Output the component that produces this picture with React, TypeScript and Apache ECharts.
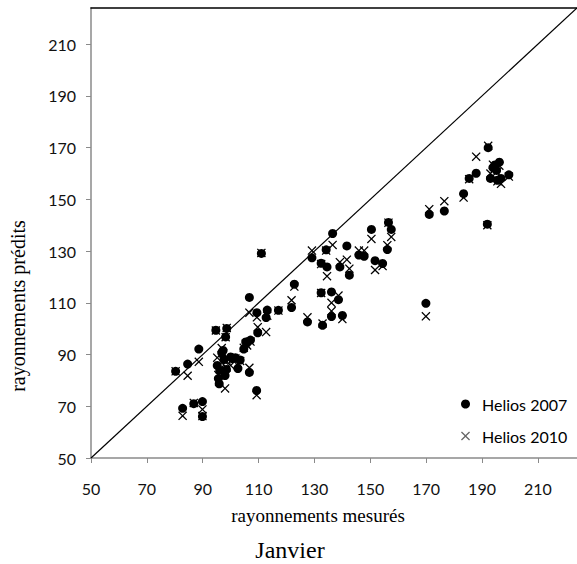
import React, { useEffect, useRef } from "react";
import * as echarts from "echarts";

// Measured irradiance (x) and the two model predictions (y) for January.
const measured = [
  80.3, 84.6, 82.8, 86.8, 88.6, 89.9, 89.9, 94.7, 95.2, 95.6, 95.9, 96.1, 96.8,
  97.3, 97.6, 98.0, 98.5, 98.6, 98.2, 100.0, 100.6, 101.7, 102.6, 103.4, 104.7,
  105.4, 105.9, 107.1, 106.7, 106.7, 109.3, 109.4, 109.7, 111.0, 112.7, 113.1,
  117.1, 121.8, 122.8, 127.5, 129.1, 132.4, 132.4, 132.9, 134.2, 134.5, 136.5,
  136.1, 136.1, 138.6, 139.1, 140.0, 141.6, 142.5, 145.9, 147.8, 150.4, 151.7,
  154.4, 156.1, 156.5, 157.5, 169.9, 171.1, 176.5, 183.4, 185.4, 187.9, 192.2,
  191.9, 193.0, 193.9, 194.6, 195.2, 196.2, 195.5, 196.8, 199.6,
];
const helios2007 = [
  83.5, 86.3, 69.2, 71.0, 92.1, 71.8, 66.0, 99.4, 85.8, 80.7, 78.7, 83.9, 90.7,
  91.6, 88.0, 81.9, 84.2, 100.1, 96.8, 89.1, 88.4, 88.8, 84.6, 87.9, 92.1,
  94.9, 94.6, 95.6, 112.1, 83.1, 76.1, 106.2, 98.4, 129.1, 104.3, 107.2,
  107.1, 108.2, 117.2, 102.6, 127.4, 125.3, 113.9, 101.3, 130.5, 123.9, 136.8,
  114.2, 104.7, 111.2, 123.9, 105.1, 132.0, 120.7, 128.5, 128.0, 138.4, 126.3,
  125.2, 130.6, 141.1, 138.4, 109.8, 144.2, 145.5, 152.2, 158.1, 160.1, 170.0,
  140.4, 158.1, 162.3, 163.3, 161.2, 164.4, 157.4, 158.1, 159.5,
];
const helios2010 = [
  83.5, 81.8, 66.3, 71.3, 87.2, 68.8, 66.2, 99.3, 88.8, 82.1, 79.5, 84.3, 92.5,
  90.5, 87.7, 76.9, 85.0, 100.3, 96.7, 85.8, 88.0, 88.5, 86.5, 87.5, 92.6,
  94.2, 93.5, 95.0, 106.2, 84.9, 74.3, 104.4, 100.6, 129.3, 98.7, 105.0,
  107.0, 111.0, 116.3, 104.4, 130.2, 125.0, 113.8, 102.0, 130.2, 120.3, 132.4,
  110.0, 106.8, 112.8, 125.7, 103.7, 126.7, 123.2, 130.2, 130.2, 134.7, 122.7,
  124.2, 132.3, 141.0, 135.5, 104.8, 146.2, 149.3, 150.7, 157.8, 166.5, 170.7,
  140.0, 160.0, 163.4, 162.0, 160.5, 163.0, 157.0, 156.0, 158.8,
];
const tickValues = [50, 70, 90, 110, 130, 150, 170, 190, 210];
const axisMin = 50;
const axisMax = 224;

const CROSS =
  "path://M0,1L1,0L5,4L9,0L10,1L6,5L10,9L9,10L5,6L1,10L0,9L4,5Z";
const SANS = "Lato, 'Liberation Sans', sans-serif";
const SERIF = "'Liberation Serif', 'Times New Roman', serif";
const AXIS_GRAY = "#8a8a8a";

const pairs = (ys: number[]) => measured.map((x, i) => [x, ys[i]]);

export default function App() {
  const ref = useRef<HTMLDivElement>(null);

  useEffect(() => {
    document.body.style.margin = "0";
    if (!ref.current) return;
    const chart = echarts.init(ref.current, undefined, { renderer: "svg" });

    const valueAxis = (labelMargin: number) => ({
      type: "value" as const,
      min: axisMin,
      max: axisMax,
      interval: 20,
      splitLine: { show: false },
      axisLine: { show: true, lineStyle: { color: AXIS_GRAY, width: 1.5 } },
      axisTick: {
        show: true,
        inside: false,
        length: 5,
        customValues: tickValues,
        lineStyle: { color: AXIS_GRAY, width: 1 },
      },
      axisLabel: {
        margin: labelMargin,
        customValues: tickValues,
        color: "#111",
        fontFamily: SANS,
        fontSize: 16,
      },
    });

    chart.setOption({
      animation: false,
      grid: { left: 91, right: 0, top: 8, bottom: 106, containLabel: false },
      xAxis: [
        valueAxis(22),
        {
          type: "value",
          position: "top",
          min: axisMin,
          max: axisMax,
          axisLine: { show: true, onZero: false, lineStyle: { color: "#000", width: 1.6 } },
          axisTick: { show: false },
          axisLabel: { show: false },
          splitLine: { show: false },
        },
      ],
      yAxis: valueAxis(15),
      legend: {
        orient: "vertical",
        left: 456,
        top: 391,
        itemGap: 16,
        itemWidth: 9,
        itemHeight: 9,
        textStyle: {
          fontFamily: SANS,
          fontSize: 16,
          color: "#000",
          padding: [0, 0, 0, 7],
        },
        data: [
          { name: "Helios 2007", icon: "circle", itemStyle: { color: "#000", opacity: 1 } },
          { name: "Helios 2010", icon: CROSS, itemStyle: { color: "#666", opacity: 1 } },
        ],
      },
      graphic: [
        {
          type: "text",
          x: 318,
          y: 515,
          style: {
            text: "rayonnements mesurés",
            font: `19px ${SERIF}`,
            fill: "#000",
            align: "center",
            verticalAlign: "middle",
          },
        },
        {
          type: "text",
          x: 18,
          y: 306,
          rotation: Math.PI / 2,
          style: {
            text: "rayonnements prédits",
            font: `20px ${SERIF}`,
            fill: "#000",
            align: "center",
            verticalAlign: "middle",
          },
        },
        {
          type: "text",
          x: 290,
          y: 550,
          style: {
            text: "Janvier",
            font: `24px ${SERIF}`,
            fill: "#000",
            align: "center",
            verticalAlign: "middle",
          },
        },
      ],
      series: [
        {
          name: "1:1",
          type: "line",
          data: [
            [axisMin, axisMin],
            [axisMax, axisMax],
          ],
          symbol: "none",
          silent: true,
          lineStyle: { color: "#000", width: 1.2 },
          z: 1,
        },
        {
          name: "Helios 2007",
          type: "scatter",
          data: pairs(helios2007),
          symbol: "circle",
          symbolSize: 9,
          itemStyle: { color: "#000", opacity: 1 },
          z: 2,
        },
        {
          name: "Helios 2010",
          type: "scatter",
          data: pairs(helios2010),
          symbol: CROSS,
          symbolSize: 9,
          itemStyle: { color: "#000", opacity: 1 },
          z: 3,
        },
      ],
    });

    return () => chart.dispose();
  }, []);

  return <div ref={ref} style={{ width: 577, height: 564 }} />;
}
